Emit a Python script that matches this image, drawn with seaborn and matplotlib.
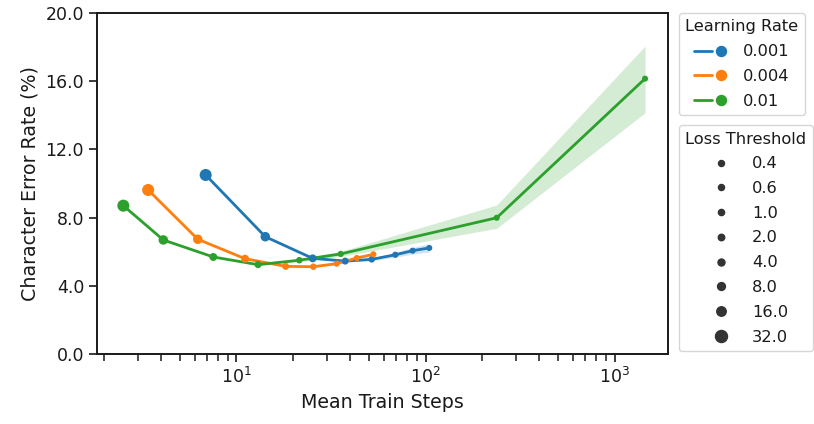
import numpy as np
import pandas as pd
import seaborn as sns
import matplotlib
matplotlib.use("Agg")
import matplotlib.pyplot as plt
from matplotlib.lines import Line2D
from matplotlib.legend_handler import HandlerTuple
from matplotlib.ticker import FormatStrFormatter, LogLocator

# ---- data ----
thresholds = [32.0, 16.0, 8.0, 4.0, 2.0, 1.0, 0.6, 0.4]
lr_labels = ["0.001", "0.004", "0.01"]

steps_lr001 = [6.87, 14.2, 25.3, 37.6, 51.9, 69.2, 85.5, 104.7]
cer_lr001 = [10.50, 6.88, 5.61, 5.45, 5.55, 5.82, 6.06, 6.22]
lo_lr001 = [10.50, 6.88, 5.58, 5.40, 5.47, 5.68, 5.86, 5.98]
hi_lr001 = [10.50, 6.88, 5.64, 5.50, 5.63, 5.96, 6.26, 6.46]

steps_lr004 = [3.41, 6.24, 11.1, 18.2, 25.5, 33.9, 43.3, 53.0]
cer_lr004 = [9.62, 6.73, 5.59, 5.14, 5.12, 5.30, 5.63, 5.85]
lo_lr004 = [9.62, 6.73, 5.57, 5.11, 5.08, 5.25, 5.57, 5.78]
hi_lr004 = [9.62, 6.73, 5.61, 5.17, 5.16, 5.35, 5.69, 5.92]

steps_lr01 = [2.52, 4.10, 7.54, 13.0, 21.5, 35.6, 238.0, 1450.0]
cer_lr01 = [8.70, 6.69, 5.69, 5.24, 5.50, 5.87, 7.99, 16.15]
lo_lr01 = [8.70, 6.69, 5.68, 5.20, 5.42, 5.72, 7.37, 14.15]
hi_lr01 = [8.70, 6.69, 5.70, 5.28, 5.58, 6.02, 8.74, 18.06]

palette = ["#1f77b4", "#ff7f0e", "#2ca02c"]

frames = []
for lab, s, c in zip(lr_labels,
                     [steps_lr001, steps_lr004, steps_lr01],
                     [cer_lr001, cer_lr004, cer_lr01]):
    frames.append(pd.DataFrame({"steps": s, "cer": c,
                                "Learning Rate": lab,
                                "Loss Threshold": thresholds}))
df = pd.concat(frames, ignore_index=True)

# ---- style ----
sns.set_theme(style="ticks")
plt.rcParams["font.family"] = ["DejaVu Sans"]
plt.rcParams["text.color"] = "#1a1a1a"
plt.rcParams["axes.labelcolor"] = "#1a1a1a"
plt.rcParams["xtick.color"] = "#1a1a1a"
plt.rcParams["ytick.color"] = "#1a1a1a"

fig = plt.figure(figsize=(8.14, 4.24), dpi=100)
ax = fig.add_axes([97.3 / 814, 1 - 354 / 424, (668 - 97.3) / 814, (354 - 13) / 424])

size_range = (19, 75)
hue_map = dict(zip(lr_labels, palette))

# confidence bands
for lab, s, lo, hi in zip(lr_labels,
                          [steps_lr001, steps_lr004, steps_lr01],
                          [lo_lr001, lo_lr004, lo_lr01],
                          [hi_lr001, hi_lr004, hi_lr01]):
    ax.fill_between(s, lo, hi, color=hue_map[lab], alpha=0.2, linewidth=0)

sns.lineplot(data=df, x="steps", y="cer", hue="Learning Rate",
             hue_order=lr_labels, palette=palette, linewidth=2.0,
             errorbar=None, sort=False, legend=False, ax=ax)
sns.scatterplot(data=df, x="steps", y="cer", hue="Learning Rate",
                hue_order=lr_labels, palette=palette,
                size="Loss Threshold", sizes=size_range,
                linewidth=0, legend=False, ax=ax, zorder=3)

ax.set_xscale("log")
ax.set_xlim(1.835, 1918)
ax.set_ylim(0, 20)
ax.set_yticks([0, 4, 8, 12, 16, 20])
ax.yaxis.set_major_formatter(FormatStrFormatter("%.1f"))
ax.xaxis.set_minor_locator(LogLocator(base=10, subs=np.arange(2, 10)))
ax.tick_params(axis="both", which="major", labelsize=12.5, length=6, width=1.2,
               colors="#1a1a1a")
ax.tick_params(axis="x", which="minor", length=4.8, width=1.1, colors="#1a1a1a")
for sp in ax.spines.values():
    sp.set_linewidth(1.4)
    sp.set_color("#1a1a1a")
ax.set_xlabel("Mean Train Steps", fontsize=13.7)
ax.set_ylabel("Character Error Rate (%)", fontsize=13.7)

# ---- legends ----
hue_handles = []
for c in palette:
    ln = Line2D([], [], color=c, lw=2.0)
    dot = Line2D([], [], color=c, marker="o", ls="", markersize=7.2)
    hue_handles.append((ln, dot))
leg1 = ax.legend(hue_handles, lr_labels, title="Learning Rate",
                 handler_map={tuple: HandlerTuple(ndivide=None, pad=0.0)},
                 loc="upper left", bbox_to_anchor=(1.019, 1.0),
                 borderaxespad=0, fontsize=11.7, title_fontsize=11.7,
                 handlelength=2.2, labelspacing=0.6, frameon=True)
ax.add_artist(leg1)

tmin, tmax = min(thresholds), max(thresholds)
size_handles = []
size_labels = []
for t in sorted(thresholds):
    area = size_range[0] + (t - tmin) / (tmax - tmin) * (size_range[1] - size_range[0])
    size_handles.append(Line2D([], [], color="#333333", marker="o", ls="",
                               markersize=np.sqrt(area)))
    size_labels.append(f"{t:.1f}")
leg2 = ax.legend(size_handles, size_labels, title="Loss Threshold",
                 loc="upper left", bbox_to_anchor=(1.019, (354 - 125) / 341),
                 borderaxespad=0, fontsize=11.7, title_fontsize=11.7,
                 handlelength=2.2, labelspacing=0.6, frameon=True)

fig.savefig("out.png", dpi=100)
